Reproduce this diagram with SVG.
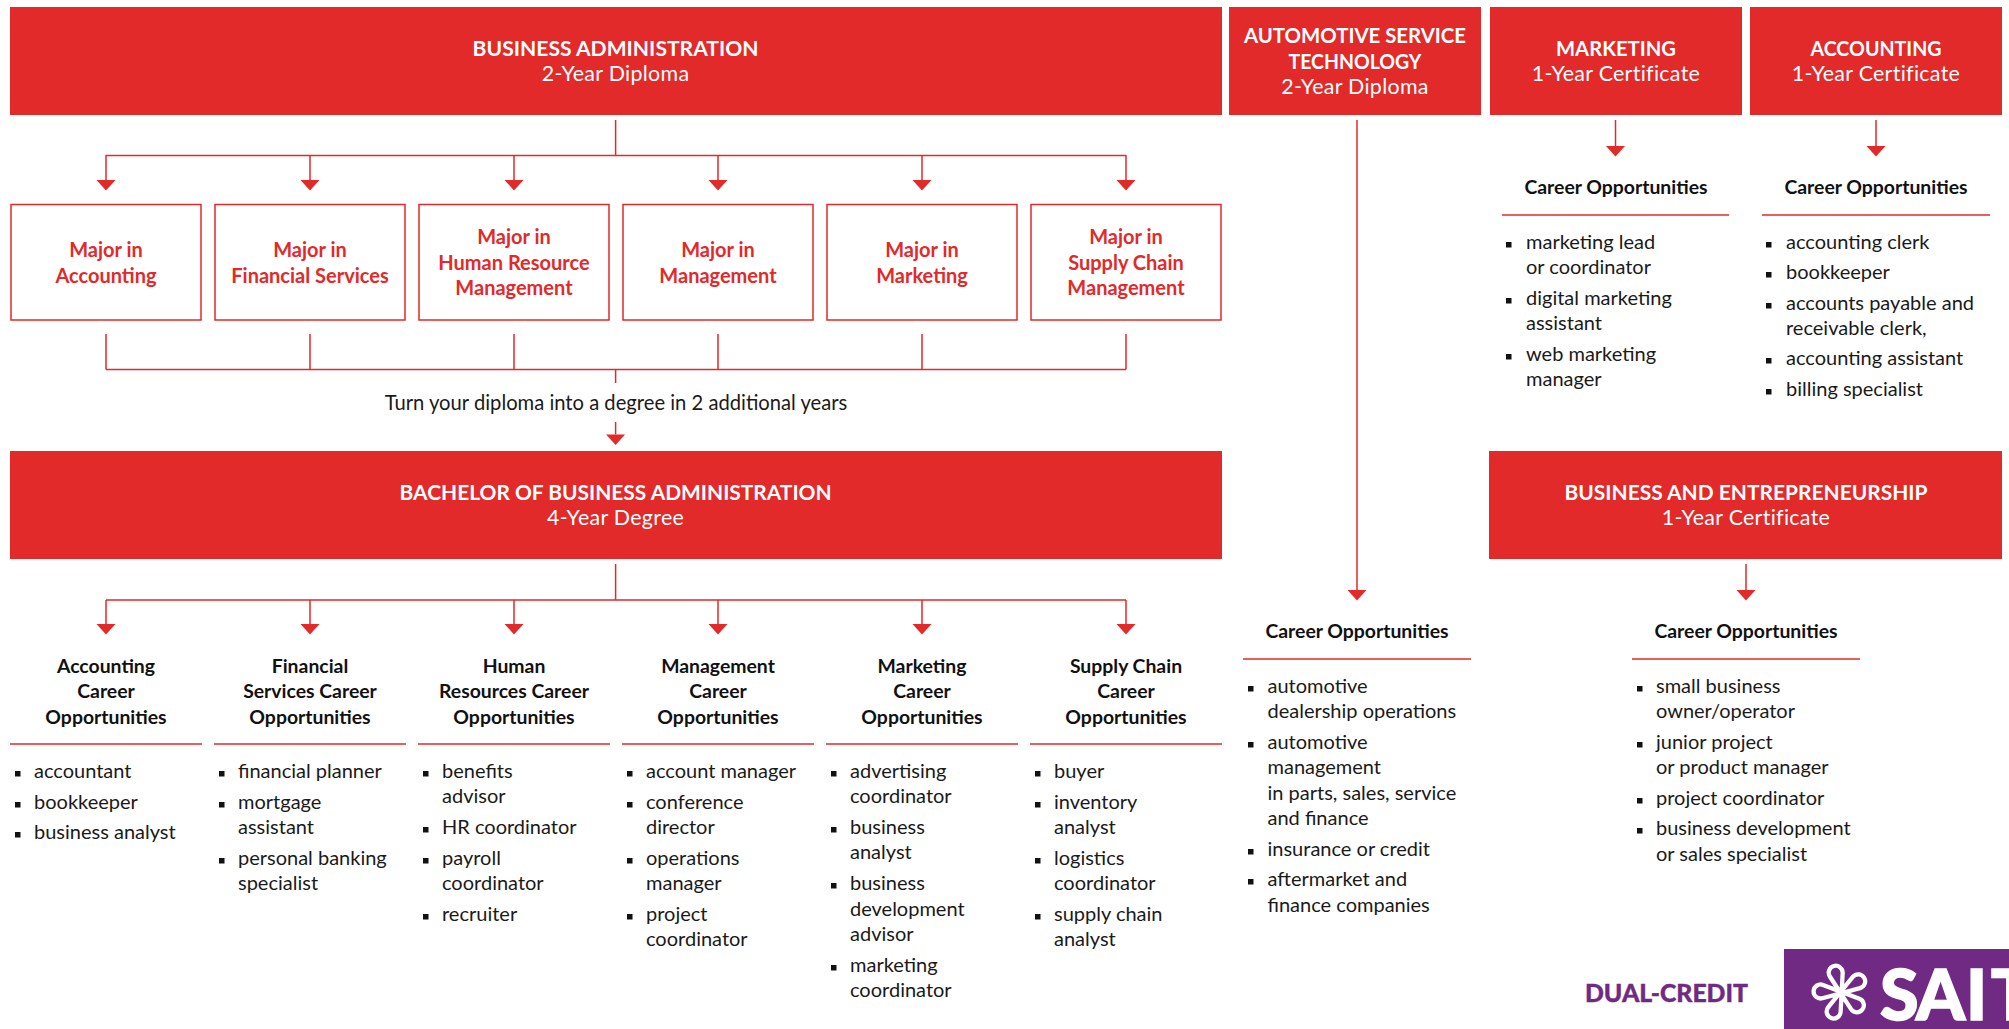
<svg xmlns="http://www.w3.org/2000/svg" width="2009" height="1029" viewBox="0 0 2009 1029">
<style>
text{font-family:Lato,"Liberation Sans",sans-serif;font-size:20px;fill:#1a1a1a}
[id$=careers] text,[id$=list] text{transform:translateY(-.8px)}
.c{text-anchor:middle;font-size:20.2px}
.bar{fill:#e12a29}
.tt{fill:#fff;font-weight:700;font-size:20.6px;text-anchor:middle}
.st{fill:#fff;font-size:21.4px;text-anchor:middle;letter-spacing:.3px}
.maj{fill:none;stroke:#e12a29;stroke-width:1.5}
.mt{fill:#e12a29;font-weight:700;font-size:20px;text-anchor:middle}
.h{font-weight:700;font-size:19.4px;text-anchor:middle;fill:#111}
.rule{stroke:#e12a29;stroke-width:1.5;fill:none}
.b{fill:#111}
.ln{fill:none;stroke:#e12a29;stroke-width:1.5}
.ar{marker-end:url(#ah)}
</style>
<defs>
<marker id="ah" markerUnits="userSpaceOnUse" markerWidth="20" markerHeight="12" refX="10" refY="1" orient="0" overflow="visible"><path d="M.5 1H19.5L10 11.5Z" fill="#e12a29"/></marker>
<rect id="sq" width="5.5" height="5.5" class="b"/>
</defs>
<rect width="2009" height="1029" fill="#fff"/>

<g id="connectors">
<path class="ln" d="M615.6 120V155.5M106 155.5H1126"/>
<path class="ln ar" d="M106 155V180"/><path class="ln ar" d="M310 155V180"/><path class="ln ar" d="M514 155V180"/><path class="ln ar" d="M718 155V180"/><path class="ln ar" d="M922 155V180"/><path class="ln ar" d="M1126 155V180"/>
<path class="ln" d="M106 334V369.5M310 334V369.5M514 334V369.5M718 334V369.5M922 334V369.5M1126 334V369.5M106 369.5H1126M615.6 369.5V383"/>
<path class="ln ar" d="M615.6 422V434.5"/>
<path class="ln" d="M615.6 564V600M106 600H1126"/>
<path class="ln ar" d="M106 600V624"/><path class="ln ar" d="M310 600V624"/><path class="ln ar" d="M514 600V624"/><path class="ln ar" d="M718 600V624"/><path class="ln ar" d="M922 600V624"/><path class="ln ar" d="M1126 600V624"/>
<path class="ln ar" d="M1357 120V590"/>
<path class="ln ar" d="M1615.5 120V146"/>
<path class="ln ar" d="M1876 120V146"/>
<path class="ln ar" d="M1746 564V590"/>
</g>

<g id="business-administration"><rect class="bar" x="10" y="7" width="1212" height="108"/><text class="tt" x="615.6" y="56" textLength="286" lengthAdjust="spacingAndGlyphs">BUSINESS ADMINISTRATION</text><text class="st" x="615.6" y="81">2-Year Diploma</text></g>
<g id="automotive"><rect class="bar" x="1229" y="7" width="252" height="108"/><text class="tt" x="1355" y="43" textLength="222" lengthAdjust="spacingAndGlyphs">AUTOMOTIVE SERVICE</text><text class="tt" x="1355" y="69" textLength="133" lengthAdjust="spacingAndGlyphs">TECHNOLOGY</text><text class="st" x="1355" y="94">2-Year Diploma</text></g>
<g id="marketing"><rect class="bar" x="1490" y="7" width="252" height="108"/><text class="tt" x="1616" y="56" textLength="120" lengthAdjust="spacingAndGlyphs">MARKETING</text><text class="st" x="1616" y="81">1-Year Certificate</text></g>
<g id="accounting"><rect class="bar" x="1750" y="7" width="252" height="108"/><text class="tt" x="1876" y="56" textLength="131" lengthAdjust="spacingAndGlyphs">ACCOUNTING</text><text class="st" x="1876" y="81">1-Year Certificate</text></g>

<g id="major-accounting"><rect class="maj" x="11" y="204.5" width="190" height="115.5"/><text class="mt" x="106" y="257">Major in</text><text class="mt" x="106" y="283">Accounting</text></g>
<g id="major-financial"><rect class="maj" x="215" y="204.5" width="190" height="115.5"/><text class="mt" x="310" y="257">Major in</text><text class="mt" x="310" y="283">Financial Services</text></g>
<g id="major-hr"><rect class="maj" x="419" y="204.5" width="190" height="115.5"/><text class="mt" x="514" y="244">Major in</text><text class="mt" x="514" y="270">Human Resource</text><text class="mt" x="514" y="295">Management</text></g>
<g id="major-management"><rect class="maj" x="623" y="204.5" width="190" height="115.5"/><text class="mt" x="718" y="257">Major in</text><text class="mt" x="718" y="283">Management</text></g>
<g id="major-marketing"><rect class="maj" x="827" y="204.5" width="190" height="115.5"/><text class="mt" x="922" y="257">Major in</text><text class="mt" x="922" y="283">Marketing</text></g>
<g id="major-supply"><rect class="maj" x="1031" y="204.5" width="190" height="115.5"/><text class="mt" x="1126" y="244">Major in</text><text class="mt" x="1126" y="270">Supply Chain</text><text class="mt" x="1126" y="295">Management</text></g>

<g id="degree-note"><text class="c" x="616" y="410">Turn your diploma into a degree in 2 additional years</text></g>

<g id="bachelor"><rect class="bar" x="10" y="451" width="1212" height="108"/><text class="tt" x="615.6" y="500" textLength="432" lengthAdjust="spacingAndGlyphs">BACHELOR OF BUSINESS ADMINISTRATION</text><text class="st" x="615.6" y="525">4-Year Degree</text></g>
<g id="business-entrepreneurship"><rect class="bar" x="1489" y="451" width="513" height="108"/><text class="tt" x="1746" y="500" textLength="363" lengthAdjust="spacingAndGlyphs">BUSINESS AND ENTREPRENEURSHIP</text><text class="st" x="1746" y="525">1-Year Certificate</text></g>

<g id="accounting-careers"><text class="h" x="106" y="674">Accounting</text><text class="h" x="106" y="699">Career</text><text class="h" x="106" y="725">Opportunities</text><path class="rule" d="M10 744H202"/>
<use href="#sq" x="15" y="771"/><text x="34" y="779">accountant</text>
<use href="#sq" x="15" y="802"/><text x="34" y="810">bookkeeper</text>
<use href="#sq" x="15" y="832"/><text x="34" y="840">business analyst</text></g>

<g id="financial-careers"><text class="h" x="310" y="674">Financial</text><text class="h" x="310" y="699">Services Career</text><text class="h" x="310" y="725">Opportunities</text><path class="rule" d="M214 744H406"/>
<use href="#sq" x="219" y="771"/><text x="238" y="779">financial planner</text>
<use href="#sq" x="219" y="802"/><text x="238" y="810">mortgage</text><text x="238" y="835">assistant</text>
<use href="#sq" x="219" y="858"/><text x="238" y="866">personal banking</text><text x="238" y="891">specialist</text></g>

<g id="hr-careers"><text class="h" x="514" y="674">Human</text><text class="h" x="514" y="699">Resources Career</text><text class="h" x="514" y="725">Opportunities</text><path class="rule" d="M418 744H610"/>
<use href="#sq" x="423" y="771"/><text x="442" y="779">benefits</text><text x="442" y="804">advisor</text>
<use href="#sq" x="423" y="827"/><text x="442" y="835">HR coordinator</text>
<use href="#sq" x="423" y="858"/><text x="442" y="866">payroll</text><text x="442" y="891">coordinator</text>
<use href="#sq" x="423" y="914"/><text x="442" y="922">recruiter</text></g>

<g id="management-careers"><text class="h" x="718" y="674">Management</text><text class="h" x="718" y="699">Career</text><text class="h" x="718" y="725">Opportunities</text><path class="rule" d="M622 744H814"/>
<use href="#sq" x="627" y="771"/><text x="646" y="779">account manager</text>
<use href="#sq" x="627" y="802"/><text x="646" y="810">conference</text><text x="646" y="835">director</text>
<use href="#sq" x="627" y="858"/><text x="646" y="866">operations</text><text x="646" y="891">manager</text>
<use href="#sq" x="627" y="914"/><text x="646" y="922">project</text><text x="646" y="947">coordinator</text></g>

<g id="marketing-careers"><text class="h" x="922" y="674">Marketing</text><text class="h" x="922" y="699">Career</text><text class="h" x="922" y="725">Opportunities</text><path class="rule" d="M826 744H1018"/>
<use href="#sq" x="831" y="771"/><text x="850" y="779">advertising</text><text x="850" y="804">coordinator</text>
<use href="#sq" x="831" y="827"/><text x="850" y="835">business</text><text x="850" y="860">analyst</text>
<use href="#sq" x="831" y="883"/><text x="850" y="891">business</text><text x="850" y="917">development</text><text x="850" y="942">advisor</text>
<use href="#sq" x="831" y="965"/><text x="850" y="973">marketing</text><text x="850" y="998">coordinator</text></g>

<g id="supply-careers"><text class="h" x="1126" y="674">Supply Chain</text><text class="h" x="1126" y="699">Career</text><text class="h" x="1126" y="725">Opportunities</text><path class="rule" d="M1030 744H1222"/>
<use href="#sq" x="1035" y="771"/><text x="1054" y="779">buyer</text>
<use href="#sq" x="1035" y="802"/><text x="1054" y="810">inventory</text><text x="1054" y="835">analyst</text>
<use href="#sq" x="1035" y="858"/><text x="1054" y="866">logistics</text><text x="1054" y="891">coordinator</text>
<use href="#sq" x="1035" y="914"/><text x="1054" y="922">supply chain</text><text x="1054" y="947">analyst</text></g>

<g id="marketing-list"><text class="h" x="1616" y="195">Career Opportunities</text><path class="rule" d="M1502 215H1729"/>
<use href="#sq" x="1506" y="242"/><text x="1526" y="250">marketing lead</text><text x="1526" y="275">or coordinator</text>
<use href="#sq" x="1506" y="298"/><text x="1526" y="306">digital marketing</text><text x="1526" y="331">assistant</text>
<use href="#sq" x="1506" y="354"/><text x="1526" y="362">web marketing</text><text x="1526" y="387">manager</text></g>

<g id="accounting-list"><text class="h" x="1876" y="195">Career Opportunities</text><path class="rule" d="M1762 215H1990"/>
<use href="#sq" x="1766" y="242"/><text x="1786" y="250">accounting clerk</text>
<use href="#sq" x="1766" y="272"/><text x="1786" y="280">bookkeeper</text>
<use href="#sq" x="1766" y="303"/><text x="1786" y="311">accounts payable and</text><text x="1786" y="336">receivable clerk,</text>
<use href="#sq" x="1766" y="358"/><text x="1786" y="366">accounting assistant</text>
<use href="#sq" x="1766" y="389"/><text x="1786" y="397">billing specialist</text></g>

<g id="automotive-list"><text class="h" x="1357" y="639">Career Opportunities</text><path class="rule" d="M1243 659H1471"/>
<use href="#sq" x="1248" y="686"/><text x="1267.5" y="694">automotive</text><text x="1267.5" y="719">dealership operations</text>
<use href="#sq" x="1248" y="742"/><text x="1267.5" y="750">automotive</text><text x="1267.5" y="775">management</text><text x="1267.5" y="801">in parts, sales, service</text><text x="1267.5" y="826">and finance</text>
<use href="#sq" x="1248" y="849"/><text x="1267.5" y="857">insurance or credit</text>
<use href="#sq" x="1248" y="879"/><text x="1267.5" y="887">aftermarket and</text><text x="1267.5" y="913">finance companies</text></g>

<g id="entrepreneurship-list"><text class="h" x="1746" y="639">Career Opportunities</text><path class="rule" d="M1632 659H1860"/>
<use href="#sq" x="1637" y="686"/><text x="1656" y="694">small business</text><text x="1656" y="719">owner/operator</text>
<use href="#sq" x="1637" y="742"/><text x="1656" y="750">junior project</text><text x="1656" y="775">or product manager</text>
<use href="#sq" x="1637" y="798"/><text x="1656" y="806">project coordinator</text>
<use href="#sq" x="1637" y="828"/><text x="1656" y="836">business development</text><text x="1656" y="862">or sales specialist</text></g>

<g id="dual-credit"><text x="1585" y="1002" style="font-weight:900;font-size:25px;fill:#6f2a84;stroke:#6f2a84;stroke-width:.4" textLength="163" lengthAdjust="spacingAndGlyphs">DUAL-CREDIT</text></g>
<g id="sait-logo"><rect x="1784" y="949" width="225" height="80" fill="#702a84"/>
<path transform="translate(1841 992.5) scale(.93) translate(-1840 -993)" d="M1828 975.8L1850.8 1010.9A7.5 7.5 0 1 0 1859.77 999.79L1820.67 984.89A7.5 7.5 0 1 0 1819.95 999.15L1860.45 988.25A7.5 7.5 0 1 0 1852.68 976.27L1826.28 1008.77A7.5 7.5 0 1 0 1839.59 1013.9L1841.79 972.1A7.5 7.5 0 1 0 1828 975.8Z" fill="none" stroke="#fff" stroke-width="4.6" stroke-linejoin="round"/>
<text x="1880 1916 1966 1991" y="1020" style="font-weight:900;font-size:70px;fill:#fff;stroke:#fff;stroke-width:1.6">SAIT</text></g>
</svg>
